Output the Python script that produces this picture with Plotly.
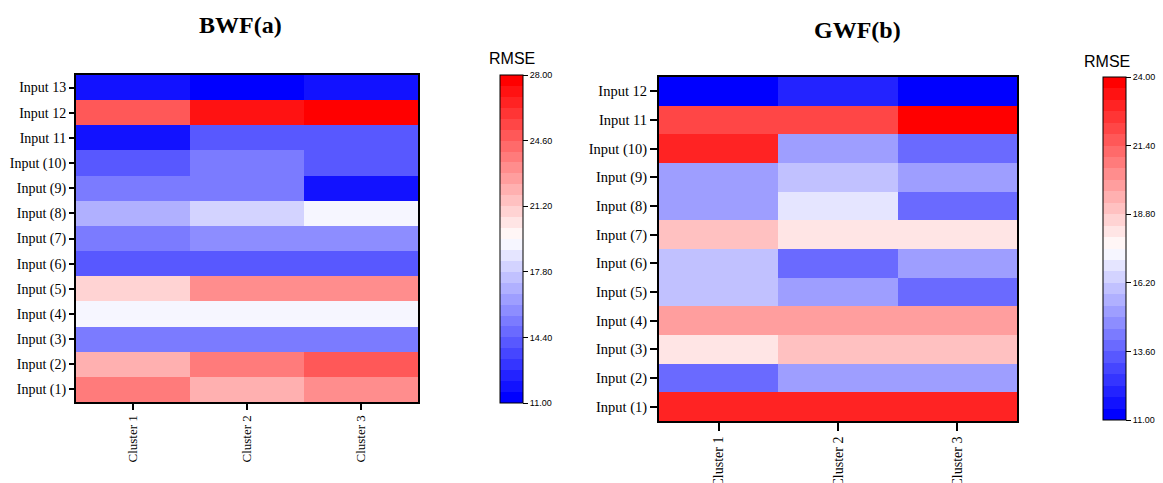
import plotly.graph_objects as go

W, H = 1163, 483

clusters = ["Cluster 1", "Cluster 2", "Cluster 3"]

bwf_inputs = ["Input (1)", "Input (2)", "Input (3)", "Input (4)", "Input (5)", "Input (6)",
              "Input (7)", "Input (8)", "Input (9)", "Input (10)", "Input 11", "Input 12", "Input 13"]
bwf_c1 = [23.75, 22.05, 15.25, 19.22, 20.92, 14.12, 15.25, 16.95, 15.25, 14.12, 11.85, 24.88, 11.85]
bwf_c2 = [22.05, 23.75, 15.25, 19.22, 23.18, 14.12, 15.82, 18.08, 15.25, 15.25, 14.12, 27.15, 11.28]
bwf_c3 = [23.18, 24.88, 15.25, 19.22, 23.18, 14.12, 15.82, 19.22, 11.85, 14.12, 14.12, 27.72, 11.85]

gwf_inputs = ["Input (1)", "Input (2)", "Input (3)", "Input (4)", "Input (5)", "Input (6)",
              "Input (7)", "Input (8)", "Input (9)", "Input (10)", "Input 11", "Input 12"]
gwf_c1 = [22.92, 13.82, 18.15, 19.88, 15.98, 15.98, 19.02, 15.12, 15.12, 22.92, 22.05, 11.22]
gwf_c2 = [22.92, 15.12, 19.02, 19.88, 15.12, 13.82, 18.15, 16.85, 15.98, 15.12, 22.05, 12.08]
gwf_c3 = [22.92, 15.12, 19.02, 19.88, 13.82, 15.12, 18.15, 13.82, 15.12, 13.82, 23.78, 11.22]

bwf_ticks = [11.0, 14.4, 17.8, 21.2, 24.6, 28.0]
gwf_ticks = [11.0, 13.6, 16.2, 18.8, 21.4, 24.0]

N_BANDS = 30


def bwr(t):
    if t <= 0.5:
        v = 2 * t
        return (v, v, 1.0)
    v = 2 * (1 - t)
    return (1.0, v, v)


def discrete_scale(n):
    scale = []
    for i in range(n):
        r, g, b = bwr(i / (n - 1))
        c = "rgb(%d,%d,%d)" % (round(r * 255), round(g * 255), round(b * 255))
        scale.append([i / n, c])
        scale.append([(i + 1) / n, c])
    return scale


cs = discrete_scale(N_BANDS)


def px_x(p):
    return p / W


def px_y(p):
    return 1 - p / H


def cbar(x0, ytop, ybot, ticks):
    return dict(
        x=px_x(x0), xanchor="left",
        y=px_y((ytop + ybot) / 2), yanchor="middle",
        len=(ybot - ytop) / H, lenmode="fraction",
        thickness=23, thicknessmode="pixels",
        xpad=0, ypad=0,
        outlinewidth=1, outlinecolor="black",
        tickvals=ticks, ticktext=["%.2f" % t for t in ticks],
        ticks="outside", ticklen=5, tickwidth=1, tickcolor="black",
        tickfont=dict(family="Liberation Sans, Arial", size=9, color="black"),
    )


fig = go.Figure()

bwf_z = [[a, b, c] for a, b, c in zip(bwf_c1, bwf_c2, bwf_c3)]
gwf_z = [[a, b, c] for a, b, c in zip(gwf_c1, gwf_c2, gwf_c3)]

fig.add_trace(go.Heatmap(
    z=bwf_z, x=clusters, y=bwf_inputs, colorscale=cs, zmin=11, zmax=28,
    xaxis="x", yaxis="y", colorbar=cbar(500, 75, 403, bwf_ticks),
    hovertemplate="%{y}, %{x}: %{z}<extra></extra>",
))
fig.add_trace(go.Heatmap(
    z=gwf_z, x=clusters, y=gwf_inputs, colorscale=cs, zmin=11, zmax=24,
    xaxis="x2", yaxis="y2", colorbar=cbar(1103, 77, 420, gwf_ticks),
    hovertemplate="%{y}, %{x}: %{z}<extra></extra>",
))

serif = "Liberation Serif, Times New Roman, serif"


def axis_common(size, ticklen):
    return dict(
        showline=True, linewidth=2, linecolor="black", mirror=True,
        ticks="outside", ticklen=ticklen, tickwidth=2, tickcolor="black",
        tickfont=dict(family=serif, size=size, color="black"),
        showgrid=False, zeroline=False, automargin=False,
    )


fig.update_layout(
    width=W, height=H,
    margin=dict(l=0, r=0, t=0, b=0, autoexpand=False),
    paper_bgcolor="white", plot_bgcolor="white",
    xaxis=dict(domain=[px_x(76), px_x(418)], anchor="y", tickangle=-90, **axis_common(13, 6)),
    yaxis=dict(domain=[px_y(402), px_y(75)], anchor="x", **axis_common(14, 5)),
    xaxis2=dict(domain=[px_x(659), px_x(1017)], anchor="y2", tickangle=-90, **axis_common(14, 8)),
    yaxis2=dict(domain=[px_y(421), px_y(77)], anchor="x2", **axis_common(14.5, 7)),
    annotations=[
        dict(text="<b>BWF(a)</b>", x=px_x(240), y=px_y(25), xref="paper", yref="paper",
             xanchor="center", yanchor="middle", showarrow=False,
             font=dict(family=serif, size=24, color="black")),
        dict(text="<b>GWF(b)</b>", x=px_x(857), y=px_y(30), xref="paper", yref="paper",
             xanchor="center", yanchor="middle", showarrow=False,
             font=dict(family=serif, size=24, color="black")),
        dict(text="RMSE", x=px_x(512), y=px_y(58), xref="paper", yref="paper",
             xanchor="center", yanchor="middle", showarrow=False,
             font=dict(family="Liberation Sans, Arial", size=16, color="black")),
        dict(text="RMSE", x=px_x(1107), y=px_y(62), xref="paper", yref="paper",
             xanchor="center", yanchor="middle", showarrow=False,
             font=dict(family="Liberation Sans, Arial", size=16, color="black")),
    ],
)

fig.write_html("out.html")
